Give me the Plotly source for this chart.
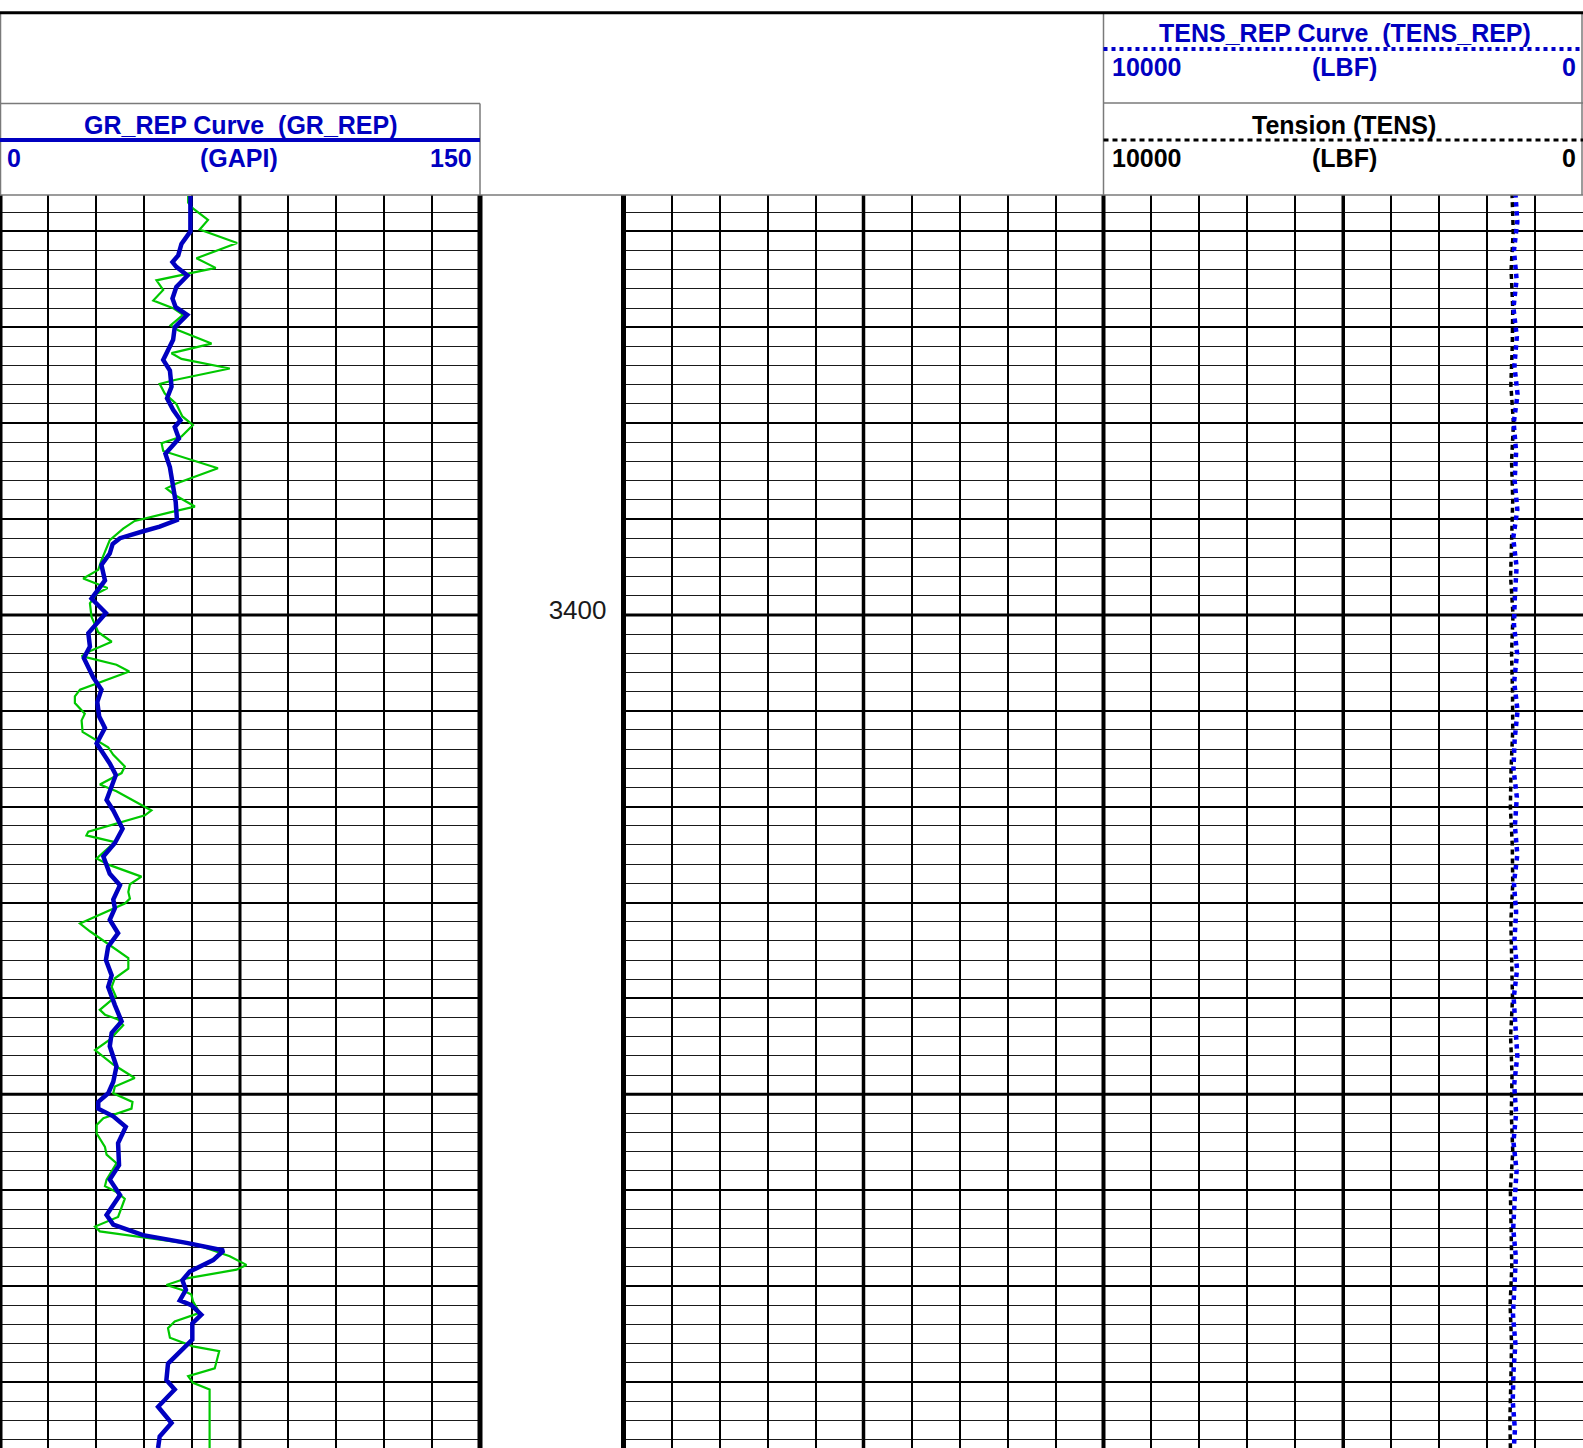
import plotly.graph_objects as go

W, H = 1583, 1448

# ---------------- data ----------------
gr_rep_depth = [3356.3, 3360.0, 3361.3, 3362.5, 3363.2, 3363.7, 3364.6, 3365.8, 3367.0, 3367.9,
                3368.7, 3370.0, 3371.3, 3373.4, 3374.5, 3376.2, 3377.4, 3378.6, 3379.7, 3380.4,
                3381.6, 3383.2, 3384.6, 3386.3, 3387.0, 3388.2, 3390.1, 3390.8, 3391.3, 3392.0,
                3392.6, 3393.6, 3394.8, 3396.4, 3398.3, 3399.8, 3401.9, 3403.3, 3404.5, 3406.5,
                3407.8, 3409.1, 3410.6, 3411.8, 3413.4, 3415.5, 3416.7, 3419.3, 3420.4, 3422.3,
                3423.8, 3425.2, 3427.0, 3428.2, 3429.7, 3430.6, 3431.8, 3433.2, 3434.6, 3436.0,
                3437.6, 3438.8, 3440.7, 3442.4, 3443.6, 3445.0, 3447.1, 3448.7, 3449.9, 3450.8,
                3451.5, 3452.3, 3453.4, 3455.1, 3457.4, 3458.9, 3460.5, 3462.6, 3463.6, 3464.7,
                3465.5, 3466.3, 3467.3, 3468.5, 3469.4, 3470.4, 3471.5, 3472.0, 3473.0, 3473.9,
                3475.6, 3476.7, 3478.1, 3479.8, 3480.8, 3482.6, 3484.3, 3485.7, 3486.9]
gr_rep = [59.5, 59.5, 56.7, 55.7, 53.9, 55.1, 58.6, 55.1, 53.9, 54.9,
          58.5, 54.6, 54.1, 51.0, 53.1, 53.6, 52.2, 54.1, 56.4, 54.6,
          55.9, 51.7, 53.1, 53.9, 54.1, 54.9, 55.3, 49.9, 44.5, 37.5,
          35.2, 34.3, 31.7, 32.8, 28.6, 33.1, 27.6, 28.1, 26.2, 29.1,
          31.7, 30.4, 31.0, 32.8, 30.2, 34.3, 36.2, 33.3, 35.4, 38.3,
          35.9, 32.3, 34.3, 37.5, 35.4, 35.9, 34.3, 36.9, 33.8, 33.1,
          34.9, 33.8, 35.9, 38.0, 34.9, 34.3, 36.4, 35.4, 33.8, 30.7,
          30.7, 35.4, 39.3, 36.9, 37.2, 34.3, 37.5, 33.3, 35.4, 44.7,
          58.3, 69.9, 66.6, 59.3, 57.0, 58.1, 56.2, 59.8, 62.9, 60.1,
          60.1, 56.7, 52.5, 52.0, 54.6, 49.4, 53.6, 49.9, 49.4]

gr_depth = [3356.3, 3357.0, 3357.6, 3358.8, 3359.8, 3361.2, 3362.8, 3363.8, 3364.4, 3365.1,
            3366.1, 3367.2, 3368.0, 3368.7, 3369.8, 3370.3, 3371.7, 3372.7, 3373.3, 3374.3,
            3375.5, 3375.9, 3376.9, 3378.0, 3379.3, 3380.2, 3381.4, 3382.1, 3382.9, 3384.7,
            3386.3, 3386.8, 3387.5, 3388.7, 3389.3, 3390.2, 3391.0, 3392.2, 3394.3, 3395.3,
            3396.2, 3396.9, 3397.2, 3397.8, 3398.8, 3400.2, 3401.8, 3402.8, 3403.7, 3404.3,
            3405.2, 3405.9, 3407.0, 3407.8, 3408.5, 3409.2, 3410.3, 3411.0, 3412.2, 3413.1,
            3413.8, 3414.6, 3415.8, 3416.5, 3417.7, 3418.4, 3420.4, 3420.9, 3422.6, 3423.0,
            3423.7, 3425.4, 3426.1, 3427.3, 3428.1, 3428.9, 3429.6, 3430.1, 3432.2, 3433.0,
            3434.3, 3435.8, 3436.9, 3437.9, 3438.8, 3439.8, 3441.2, 3441.7, 3442.2, 3442.8,
            3444.3, 3445.4, 3446.9, 3448.3, 3449.2, 3449.9, 3450.8, 3451.5, 3452.5, 3453.2,
            3454.1, 3455.5, 3456.3, 3457.2, 3458.9, 3459.6, 3460.2, 3460.9, 3462.8, 3463.8,
            3464.3, 3465.0, 3465.7, 3466.9, 3467.8, 3468.3, 3469.2, 3469.9, 3470.4, 3470.9,
            3471.6, 3472.8, 3473.7, 3474.4, 3475.4, 3476.3, 3476.8, 3478.6, 3479.4, 3480.1,
            3480.8, 3486.9]
gr = [58.8, 58.8, 60.3, 65.0, 62.4, 74.1, 61.4, 67.4, 58.8, 48.9,
      51.0, 47.9, 54.1, 57.2, 53.3, 55.7, 66.1, 53.6, 56.7, 71.8,
      54.6, 49.9, 51.5, 55.1, 57.0, 60.3, 56.7, 50.5, 51.0, 68.1,
      55.1, 52.0, 54.6, 60.9, 53.1, 42.1, 38.5, 34.3, 31.7, 30.7,
      26.0, 31.2, 33.6, 30.2, 28.1, 28.6, 30.7, 34.9, 28.6, 25.5,
      36.4, 40.4, 31.2, 25.0, 23.4, 23.4, 26.5, 25.5, 25.8, 30.2,
      33.8, 35.4, 39.0, 38.0, 31.2, 36.4, 47.3, 45.3, 27.6, 27.0,
      35.9, 30.2, 34.3, 44.2, 40.6, 40.1, 40.6, 39.0, 25.0, 28.1,
      33.8, 40.1, 40.1, 35.9, 34.9, 36.2, 31.2, 32.8, 36.9, 38.5,
      34.3, 29.7, 35.4, 42.1, 35.9, 35.4, 41.4, 41.1, 32.3, 30.2,
      30.2, 32.8, 33.3, 36.4, 33.3, 32.8, 36.4, 39.0, 36.9, 29.7,
      31.2, 45.8, 61.4, 71.8, 77.0, 73.9, 58.3, 52.0, 56.7, 59.8,
      60.3, 62.4, 54.6, 52.5, 53.1, 60.3, 68.5, 67.1, 58.8, 60.3,
      65.5, 65.5]

tens_rep_depth = [3356, 3359, 3362, 3365, 3368, 3371, 3374, 3377, 3380, 3383,
                  3386, 3389, 3392, 3395, 3398, 3401, 3404, 3407, 3410, 3413,
                  3416, 3419, 3422, 3425, 3428, 3431, 3434, 3437, 3440, 3443,
                  3446, 3449, 3452, 3455, 3458, 3461, 3464, 3467, 3470, 3473,
                  3476, 3479, 3482, 3485, 3488]
tens_rep = [1410, 1370, 1440, 1385, 1450, 1380, 1430, 1365, 1445, 1395,
            1425, 1370, 1455, 1385, 1420, 1440, 1375, 1435, 1365, 1425,
            1450, 1380, 1420, 1370, 1440, 1395, 1430, 1375, 1445, 1405,
            1370, 1435, 1395, 1450, 1385, 1425, 1455, 1400, 1430, 1460,
            1410, 1450, 1465, 1420, 1455]

tens_depth = [3356, 3360, 3364, 3368, 3372, 3376, 3380, 3384, 3388, 3392,
              3396, 3400, 3404, 3408, 3412, 3416, 3420, 3424, 3428, 3432,
              3436, 3440, 3444, 3448, 3452, 3456, 3460, 3464, 3468, 3472,
              3476, 3480, 3484, 3488]
tens = [1480, 1455, 1500, 1465, 1475, 1505, 1450, 1490, 1465, 1485,
        1510, 1460, 1490, 1470, 1465, 1500, 1515, 1475, 1465, 1505,
        1490, 1470, 1510, 1480, 1495, 1465, 1515, 1500, 1485, 1520,
        1490, 1505, 1525, 1510]

depth_range = [3486.9, 3356.2]   # bottom, top (depth increases downwards)
depth_labels = [3400]
heavy_depths = [3400, 3450]
gr_range = [0, 150]
tens_range = [10000, 0]

# ---------------- layout helpers ----------------
def px(x):
    return x / W

def py(y):
    return 1 - y / H

BLUE_TXT = "#0000C0"
FONT = "Liberation Sans, Arial, sans-serif"

y_dom = [0, py(195)]
x1_dom = [0, px(480)]
x2_dom = [px(480), px(623.5)]
x3_dom = [px(623.5), px(1103.5)]
x4_dom = [px(1103.5), 1]

fig = go.Figure()

# GR track
fig.add_trace(go.Scatter(x=gr, y=gr_depth, mode="lines", xaxis="x", yaxis="y",
                         line=dict(color="#00C800", width=2.2), showlegend=False, name="GR"))
fig.add_trace(go.Scatter(x=gr_rep, y=gr_rep_depth, mode="lines", xaxis="x", yaxis="y",
                         line=dict(color="#0000C0", width=4.5), showlegend=False, name="GR_REP"))
# depth track (empty)
fig.add_trace(go.Scatter(x=[None], y=[None], xaxis="x2", yaxis="y2", showlegend=False))
# track 2 (empty)
fig.add_trace(go.Scatter(x=[None], y=[None], xaxis="x3", yaxis="y3", showlegend=False))
# tension track
fig.add_trace(go.Scatter(x=tens, y=tens_depth, mode="lines", xaxis="x4", yaxis="y4",
                         line=dict(color="black", width=3.5, dash="5px,4px"), showlegend=False, name="TENS"))
fig.add_trace(go.Scatter(x=tens_rep, y=tens_rep_depth, mode="lines", xaxis="x4", yaxis="y4",
                         line=dict(color="#0000F0", width=4.5, dash="dot"), showlegend=False, name="TENS_REP"))

ygrid = dict(range=depth_range, domain=y_dom, showticklabels=False, ticks="",
             showgrid=True, gridcolor="black", gridwidth=2, dtick=10, tick0=0,
             minor=dict(dtick=2, showgrid=True, gridcolor="#1a1a1a", gridwidth=1),
             zeroline=False, showline=False)

xgrid = dict(showticklabels=False, ticks="", showgrid=True, gridcolor="black",
             gridwidth=1.5, zeroline=False, showline=False)

fig.update_layout(
    width=W, height=H, margin=dict(l=0, r=0, t=0, b=0),
    paper_bgcolor="white", plot_bgcolor="rgba(0,0,0,0)",
    xaxis=dict(xgrid, domain=x1_dom, range=gr_range, dtick=15, anchor="y"),
    yaxis=dict(ygrid, anchor="x"),
    xaxis2=dict(domain=x2_dom, range=[0, 1], visible=False, anchor="y2"),
    yaxis2=dict(range=depth_range, domain=y_dom, anchor="x2", matches="y", side="right",
                showgrid=False, zeroline=False, showline=False, ticks="",
                tickvals=depth_labels, ticktext=[str(d) for d in depth_labels],
                ticklabelposition="inside", ticklabelstandoff=14, ticklabelshift=5,
                tickfont=dict(family=FONT, size=26, color="#1a1a1a")),
    xaxis3=dict(xgrid, domain=x3_dom, range=[0, 10], dtick=1, anchor="y3"),
    yaxis3=dict(ygrid, anchor="x3", matches="y"),
    xaxis4=dict(xgrid, domain=x4_dom, range=tens_range, dtick=1000, anchor="y4"),
    yaxis4=dict(ygrid, anchor="x4", matches="y"),
)

shapes = []
# heavier interior vertical lines (data coords)
for xr, yr, xv, w in [("x", "y domain", 75, 3),
                      ("x3", "y3 domain", 5, 3.5),
                      ("x4", "y4 domain", 5000, 3.5)]:
    shapes.append(dict(type="line", xref=xr, yref=yr, x0=xv, x1=xv, y0=0, y1=1,
                       line=dict(color="black", width=w), layer="below"))
# heavy horizontal lines
for d in heavy_depths:
    for xr, yr in [("x domain", "y"), ("x3 domain", "y3"), ("x4 domain", "y4")]:
        shapes.append(dict(type="line", xref=xr, yref=yr, x0=0, x1=1, y0=d, y1=d,
                           line=dict(color="black", width=3), layer="below"))

GRAY = "#7a7a7a"
def hline(x0, x1, y, color=GRAY, width=1.5, dash=None):
    ln = dict(color=color, width=width)
    if dash:
        ln["dash"] = dash
    shapes.append(dict(type="line", xref="paper", yref="paper", x0=px(x0), x1=px(x1),
                       y0=py(y), y1=py(y), line=ln))

def vline(x, y0, y1, color=GRAY, width=1.5):
    shapes.append(dict(type="line", xref="paper", yref="paper", x0=px(x), x1=px(x),
                       y0=py(y0), y1=py(y1), line=dict(color=color, width=width)))

# track borders
vline(0, 195, H, color="black", width=5)
vline(480, 195, H, color="black", width=5)
vline(623.5, 195, H, color="black", width=5)
vline(1103.5, 195, H, color="black", width=4)

# header frame
hline(0, W, 195)
vline(0.5, 12, 195)
vline(1103.5, 12, 195)
vline(1582, 12, 195)
hline(0, 480, 103.5)
vline(480, 103.5, 195)
hline(1103.5, W, 103)
hline(0, W, 12.7, color="black", width=3)
# curve legend lines
hline(0, 480, 140, color=BLUE_TXT, width=4)
hline(1103.5, W, 49, color="#0000C8", width=4, dash="4px,4px")
hline(1103.5, W, 140, color="black", width=3, dash="5px,4px")

fig.update_layout(shapes=shapes)

annots = []
def txt(x, y, s, anchor="center", color=BLUE_TXT, size=25):
    annots.append(dict(xref="paper", yref="paper", x=px(x), y=py(y), text=s,
                       xanchor=anchor, yanchor="middle", showarrow=False,
                       font=dict(family=FONT, size=size, color=color)))

txt(241, 124.7, "<b>GR_REP Curve \u00a0(GR_REP)</b>")
txt(5, 158, "<b>0</b>", "left")
txt(239, 158, "<b>(GAPI)</b>")
txt(474, 158, "<b>150</b>", "right")

txt(1345, 33.3, "<b>TENS_REP Curve \u00a0(TENS_REP)</b>")
txt(1110, 66.7, "<b>10000</b>", "left")
txt(1344, 66.7, "<b>(LBF)</b>")
txt(1578, 66.7, "<b>0</b>", "right")

txt(1344, 125, "<b>Tension (TENS)</b>", color="black")
txt(1110, 157.7, "<b>10000</b>", "left", color="black")
txt(1344, 157.7, "<b>(LBF)</b>", color="black")
txt(1578, 157.7, "<b>0</b>", "right", color="black")

fig.update_layout(annotations=annots)

fig.write_html("out.html", config={"displayModeBar": False},
               post_script="document.body.style.margin='0px';")
